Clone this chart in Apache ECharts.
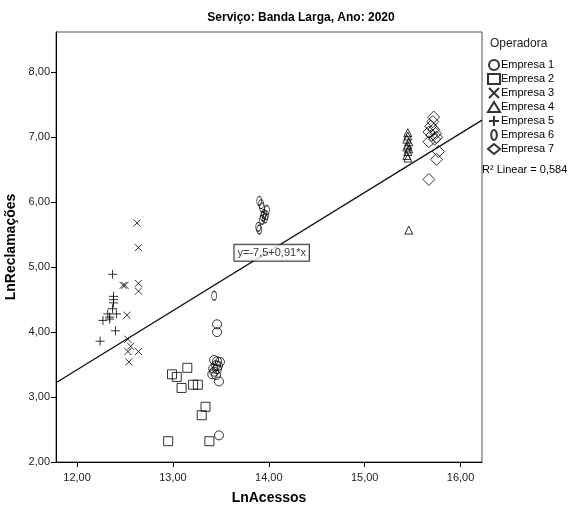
<!DOCTYPE html>
<html><head><meta charset="utf-8">
<script src="https://cdn.jsdelivr.net/npm/echarts@6/dist/echarts.min.js"></script>
<style>html,body{margin:0;padding:0;background:#fff}#c{width:574px;height:510px}</style>
</head><body><div id="c"></div>
<script>
const titleText = 'Serviço: Banda Larga, Ano: 2020';
const xName = 'LnAcessos';
const yName = 'LnReclamações';
const legendTitle = 'Operadora';
const xTicks = [12, 13, 14, 15, 16];
const yTicks = [2, 3, 4, 5, 6, 7, 8];
const xRange = [11.78, 16.224];
const yRange = [2, 8.62];
const intercept = -7.5;
const slope = 0.91;
const fitLabel = 'y=-7,5+0,91*x';
const fitLabelPos = [14.03, 5.22];
const r2Text = 'R² Linear = 0,584';
const seriesNames = ['Empresa 1','Empresa 2','Empresa 3','Empresa 4','Empresa 5','Empresa 6','Empresa 7'];

const empresa1 = [[13.46,4.12],[13.46,4.00],[13.43,3.57],[13.46,3.55],[13.49,3.54],[13.45,3.49],[13.47,3.48],[13.42,3.44],[13.46,3.43],[13.43,3.39],[13.41,3.35],[13.45,3.34],[13.48,3.24],[13.48,2.41]];
const empresa2 = [[13.15,3.45],[12.99,3.35],[13.04,3.31],[13.09,3.14],[13.21,3.19],[13.26,3.19],[13.34,2.85],[13.30,2.72],[12.95,2.32],[13.38,2.32]];
const empresa3 = [[12.625,5.68],[12.64,5.30],[12.48,4.72],[12.50,4.72],[12.64,4.75],[12.64,4.63],[12.52,4.26],[12.53,3.89],[12.56,3.78],[12.53,3.70],[12.64,3.70],[12.54,3.54]];
const empresa4 = [[15.45,7.07],[15.45,7.02],[15.44,6.97],[15.46,6.93],[15.45,6.88],[15.44,6.85],[15.46,6.82],[15.45,6.78],[15.44,6.72],[15.45,6.68],[15.46,5.57]];
const empresa5 = [[12.37,4.89],[12.38,4.55],[12.38,4.50],[12.38,4.45],[12.37,4.36],[12.32,4.28],[12.34,4.23],[12.41,4.28],[12.27,4.18],[12.34,4.20],[12.40,4.02],[12.24,3.86]];
const empresa6 = [[13.43,4.56],[13.90,6.02],[13.92,5.97],[13.93,5.92],[13.98,5.88],[13.95,5.82],[13.97,5.80],[13.94,5.78],[13.96,5.75],[13.93,5.73],[13.89,5.62],[13.90,5.58]];
const empresa7 = [[15.72,7.31],[15.71,7.24],[15.69,7.17],[15.72,7.12],[15.67,7.08],[15.74,7.06],[15.70,7.03],[15.75,7.00],[15.73,6.97],[15.67,6.93],[15.77,6.78],[15.75,6.66],[15.67,6.35]];

const allData = [empresa1, empresa2, empresa3, empresa4, empresa5, empresa6, empresa7];
const symbols = [
  'circle', 'rect',
  'path://M0,0L10,10M10,0L0,10',
  'triangle',
  'path://M5,0L5,10M0,5L10,5',
  'path://M5,0A5,9 0 1,1 5,18A5,9 0 1,1 5,0Z',
  'diamond'
];
const sizes = [9, 9, 7, 8, 9, [5, 9], 12];

const fmt = v => v.toFixed(2).replace('.', ',');
const font = 'Liberation Sans, Arial, sans-serif';

const series = allData.map((d, i) => ({
  name: seriesNames[i], type: 'scatter', data: d,
  symbol: symbols[i], symbolSize: sizes[i],
  itemStyle: {color: 'rgba(0,0,0,0)', borderColor: '#000', borderWidth: 1},
  emphasis: {disabled: true}, z: 3
}));
series.push({
  type: 'line', name: 'fit', silent: true, showSymbol: false, symbol: 'none',
  data: [[xRange[0], intercept + slope * xRange[0]], [xRange[1], intercept + slope * xRange[1]]],
  lineStyle: {color: '#111', width: 1.3}, z: 2
});
series.push({
  type: 'scatter', name: 'fitlabel', silent: true, symbolSize: 0,
  data: [fitLabelPos],
  label: {show: true, position: 'inside', formatter: fitLabel, color: '#000', fontSize: 11, fontFamily: font,
    backgroundColor: '#fff', borderColor: '#000', borderWidth: 1, padding: [3, 3, 2, 3]},
  z: 5
});

const chart = echarts.init(document.getElementById('c'), null, {renderer: 'canvas'});
chart.setOption({
  animation: false,
  backgroundColor: '#fff',
  grid: {left: 56, right: 92, top: 32, bottom: 48, show: true, borderColor: '#555', borderWidth: 1,
    containLabel: false, outerBoundsMode: 'none'},
  xAxis: {
    type: 'value', min: xRange[0], max: xRange[1],
    name: xName, nameLocation: 'middle', nameGap: 29,
    nameTextStyle: {fontSize: 14, fontWeight: 'bold', color: '#000', fontFamily: font},
    axisLine: {lineStyle: {color: '#000'}},
    axisTick: {show: true, customValues: xTicks, length: 5, lineStyle: {color: '#000'}},
    axisLabel: {customValues: xTicks, formatter: fmt, fontSize: 11, color: '#222', fontFamily: font, margin: 10},
    splitLine: {show: false}
  },
  yAxis: {
    type: 'value', min: yRange[0], max: yRange[1],
    name: yName, nameLocation: 'middle', nameGap: 36,
    nameTextStyle: {fontSize: 14, fontWeight: 'bold', color: '#000', fontFamily: font},
    axisLine: {show: true, lineStyle: {color: '#000'}},
    axisTick: {show: true, customValues: yTicks, length: 5, lineStyle: {color: '#000'}},
    axisLabel: {customValues: yTicks, formatter: fmt, fontSize: 11, color: '#222', fontFamily: font, margin: 6},
    splitLine: {show: false}
  },
  legend: {
    data: seriesNames, orient: 'vertical', left: 487, top: 59, padding: 0,
    itemWidth: 12, itemHeight: 10, itemGap: 2,
    textStyle: {fontSize: 11, lineHeight: 10, color: '#000', fontFamily: font, padding: [0, 0, 0, -4]},
    selectedMode: false
  },
  graphic: [
    {type: 'text', x: 301, y: 12, style: {text: titleText, font: 'bold 12px ' + font, fill: '#000', textAlign: 'center'}},
    {type: 'text', x: 490, y: 38, style: {text: legendTitle, font: '12px ' + font, fill: '#222'}},
    {type: 'text', x: 482, y: 164, style: {text: r2Text, font: '11px ' + font, fill: '#000'}}
  ],
  series: series
});
</script>
</body></html>
